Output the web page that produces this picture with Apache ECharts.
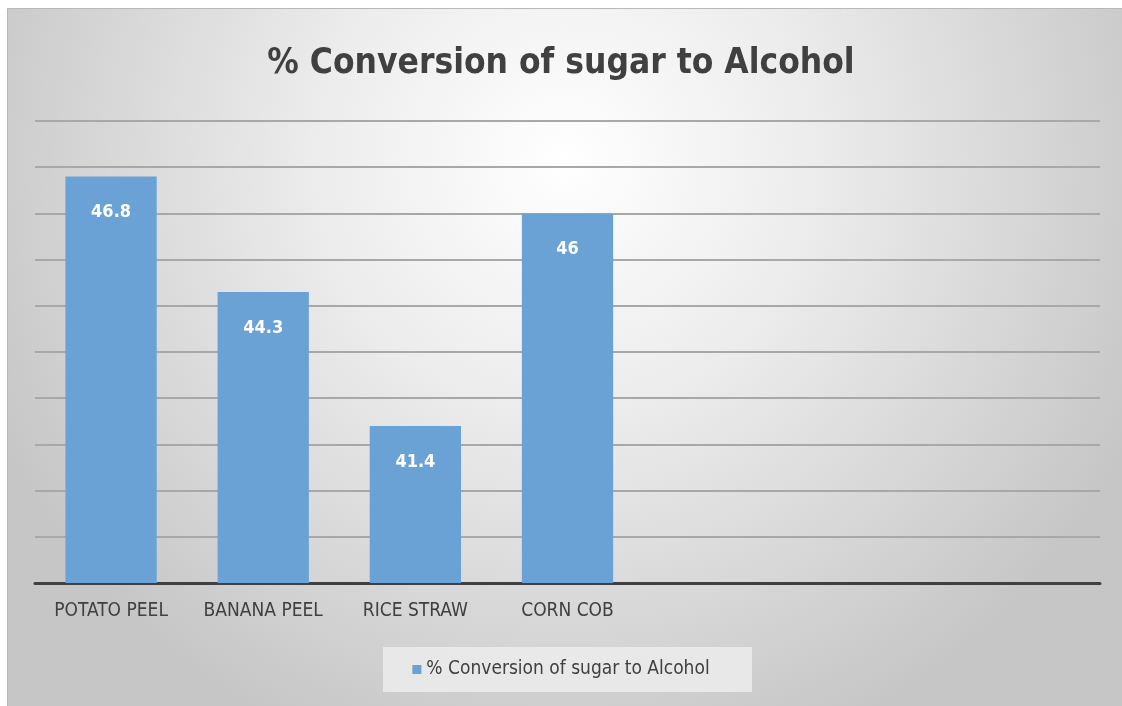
<!DOCTYPE html>
<html><head><meta charset="utf-8">
<script src="https://cdn.jsdelivr.net/npm/echarts@6/dist/echarts.min.js"></script>
<style>html,body{margin:0;padding:0;background:#fff}#c{width:1122px;height:706px}</style>
</head><body><div id="c"></div>
<script>
const title = '% Conversion of sugar to Alcohol';
const seriesName = '% Conversion of sugar to Alcohol';
const categories = ['POTATO PEEL', 'BANANA PEEL', 'RICE STRAW', 'CORN COB', '', '', ''];
const values = [46.8, 44.3, 41.4, 46, null, null, null];
const yMin = 38, yMax = 48, yInterval = 1;

const FONT = '"DejaVu Sans Condensed", "Open Sans", sans-serif';
const chart = echarts.init(document.getElementById('c'), null, {renderer: 'canvas'});
chart.setOption({
  animation: false,
  backgroundColor: '#fff',
  graphic: [
    {type: 'rect', left: 7, top: 8, z: -10, silent: true,
     shape: {width: 1115, height: 698},
     style: {fill: {type: 'radial', x: 0.5, y: 0.22, r: 0.9,
       colorStops: [{offset: 0, color: '#ffffff'}, {offset: 0.4, color: '#ececec'}, {offset: 1, color: '#c6c6c6'}]},
       stroke: '#b8b8b8', lineWidth: 1}},
    {type: 'rect', left: 383, top: 647, z: -5, silent: true,
     shape: {width: 369, height: 45},
     style: {fill: 'rgba(236,236,236,0.85)'}}
  ],
  title: {text: title, left: 'center', top: 41,
    textStyle: {fontFamily: FONT, fontWeight: 'bold', fontSize: 35, color: '#404040'}},
  legend: {bottom: 22, left: 'center', itemWidth: 9, itemHeight: 9, icon: 'rect',
    itemGap: 4,
    textStyle: {fontFamily: FONT, fontSize: 19, color: '#404040'},
    data: [seriesName]},
  grid: {left: 35, right: 22, top: 121, bottom: 123, containLabel: false},
  xAxis: {type: 'category', data: categories,
    axisLine: {lineStyle: {color: '#404040', width: 3}},
    axisTick: {show: false},
    axisLabel: {interval: 0, hideOverlap: false, fontFamily: FONT, fontSize: 19, color: '#404040', margin: 19}},
  yAxis: {type: 'value', min: yMin, max: yMax, interval: yInterval,
    axisLine: {show: false}, axisTick: {show: false}, axisLabel: {show: false},
    splitLine: {lineStyle: {color: '#a8a8a8', width: 2}}},
  series: [{name: seriesName, type: 'bar', data: values, barWidth: '60%',
    itemStyle: {color: '#6aa2d6'},
    label: {show: true, position: 'insideTop', distance: 27,
      fontFamily: FONT, fontWeight: 'bold', fontSize: 18, color: '#ffffff'}}]
});
</script></body></html>
